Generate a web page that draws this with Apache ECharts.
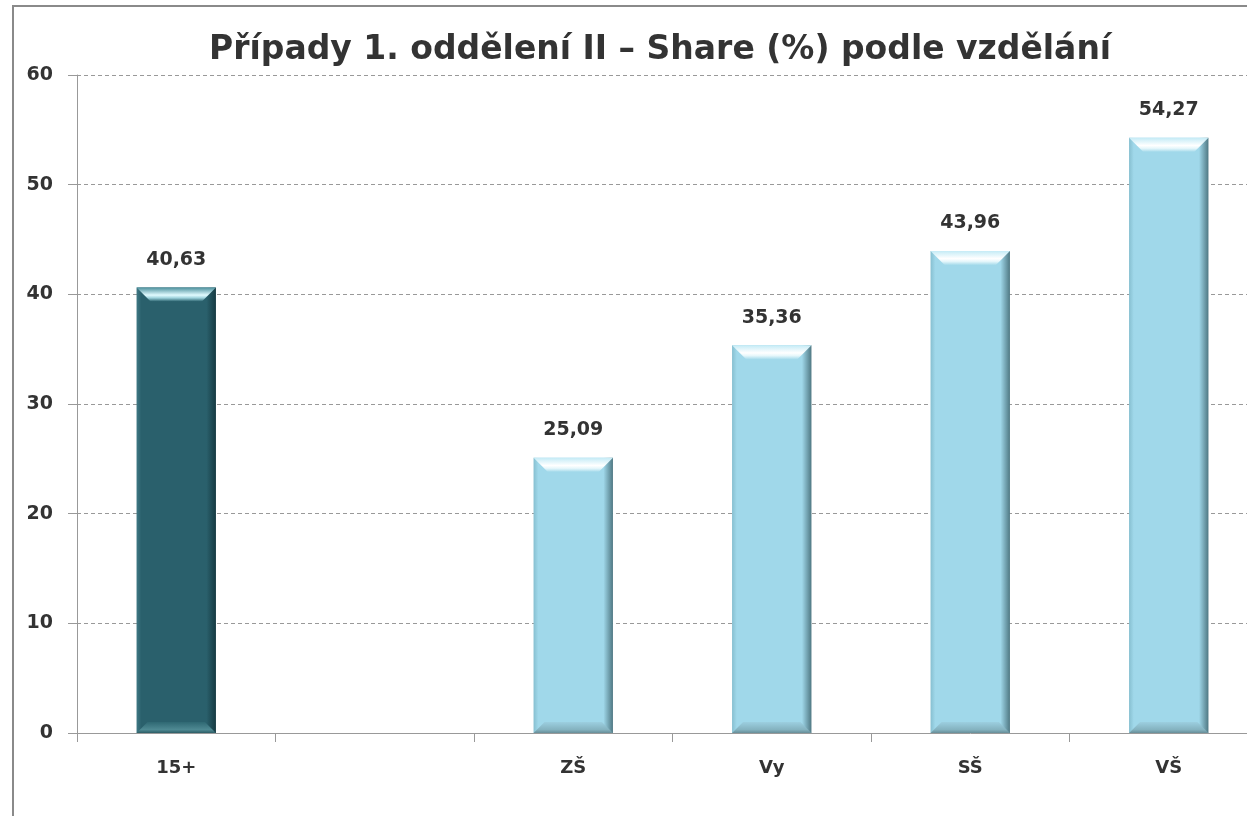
<!DOCTYPE html>
<html>
<head>
<meta charset="utf-8">
<script src="https://cdn.jsdelivr.net/npm/echarts@6/dist/echarts.min.js"></script>
<style>
  html, body { margin: 0; padding: 0; background: #fff; overflow: hidden; width: 1247px; height: 816px; }
  #chart { width: 1300px; height: 816px; }
  .frame { position: absolute; left: 12px; top: 5px; width: 1300px; height: 900px;
           border-left: 2px solid #8a8a8a; border-top: 2px solid #8a8a8a; pointer-events: none; }
</style>
</head>
<body>
<div id="chart"></div>
<div class="frame"></div>
<script>
// categories (the second one is an empty spacer slot)
const categories = ['15+', '', 'ZŠ', 'Vy', 'SŠ', 'VŠ'];
// share in %
const shareValues = [40.63, null, 25.09, 35.36, 43.96, 54.27];
const yTicks = { min: 0, max: 60, interval: 10 };

// side shading of the bars
function barFill(edge, main, dark) {
  return new echarts.graphic.LinearGradient(0, 0, 1, 0, [
    { offset: 0, color: edge },
    { offset: 0.06, color: main },
    { offset: 0.88, color: main },
    { offset: 1, color: dark }
  ]);
}
const darkFill = barFill('#3f7884', '#2a606c', '#163a42');
const lightFill = barFill('#86bfd0', '#a0d8ea', '#4f7883');

// top / bottom bevel drawn on top of each bar
function bevel(params, api) {
  const v = api.value(1);
  if (v == null) return;
  const top = api.coord([api.value(0), v]);
  const base = api.coord([api.value(0), 0]);
  const w = api.size([1, 0])[0] * 0.4;
  const x0 = top[0] - w / 2, x1 = top[0] + w / 2;
  const bt = 14, bb = 11;
  const dark = api.value(0) === 0;
  const topGrad = new echarts.graphic.LinearGradient(0, 0, 0, 1, dark
    ? [{ offset: 0, color: '#4a8f9c' }, { offset: 0.55, color: '#e2fbff' }, { offset: 0.75, color: '#9fd3dd' }, { offset: 1, color: '#2d6571' }]
    : [{ offset: 0, color: '#c4ebf6' }, { offset: 0.55, color: '#ffffff' }, { offset: 0.75, color: '#e6f7fb' }, { offset: 1, color: '#a6dbeb' }]);
  const botGrad = new echarts.graphic.LinearGradient(0, 0, 0, 1, dark
    ? [{ offset: 0, color: '#2f6873' }, { offset: 0.7, color: '#4f8a93' }, { offset: 1, color: '#2c5d66' }]
    : [{ offset: 0, color: '#9ccfe0' }, { offset: 0.7, color: '#84b2bf' }, { offset: 1, color: '#678e99' }]);
  return {
    type: 'group',
    children: [{
      type: 'polygon',
      shape: { points: [[x0, top[1]], [x1, top[1]], [x1 - bt, top[1] + bt], [x0 + bt, top[1] + bt]] },
      style: { fill: topGrad }
    }, {
      type: 'polygon',
      shape: { points: [[x0 + bb, base[1] - bb], [x1 - bb, base[1] - bb], [x1, base[1]], [x0, base[1]]] },
      style: { fill: botGrad }
    }]
  };
}

const chart = echarts.init(document.getElementById('chart'));
chart.setOption({
  animation: false,
  title: {
    text: 'Případy 1. oddělení II – Share (%) podle vzdělání',
    left: 204,
    top: 29,
    textStyle: { fontFamily: 'DejaVu Sans', fontWeight: 'bold', fontSize: 33, color: '#333' }
  },
  grid: { left: 77, top: 75, width: 1191, height: 658 },
  xAxis: {
    type: 'category',
    data: categories,
    axisLine: { lineStyle: { color: '#999' } },
    axisTick: { show: true, length: 9, lineStyle: { color: '#999' } },
    axisLabel: { margin: 26, fontFamily: 'DejaVu Sans', fontWeight: 'bold', fontSize: 18, color: '#333' }
  },
  yAxis: {
    type: 'value',
    min: yTicks.min,
    max: yTicks.max,
    interval: yTicks.interval,
    axisLine: { show: true, lineStyle: { color: '#999' } },
    axisTick: { show: true, length: 9, lineStyle: { color: '#999' } },
    axisLabel: { margin: 24, fontFamily: 'DejaVu Sans', fontWeight: 'bold', fontSize: 19, color: '#333' },
    splitLine: { lineStyle: { color: '#999', type: [4, 3] } }
  },
  series: [{
    type: 'bar',
    data: shareValues.map((v, i) => ({
      value: v,
      itemStyle: { color: i === 0 ? darkFill : lightFill }
    })),
    barWidth: '40%',
    label: {
      show: true,
      position: 'top',
      distance: 18,
      fontFamily: 'DejaVu Sans',
      fontWeight: 'bold',
      fontSize: 19,
      color: '#333',
      formatter: p => p.value == null ? '' : p.value.toFixed(2).replace('.', ',')
    }
  }, {
    type: 'custom',
    renderItem: bevel,
    data: shareValues.map((v, i) => [i, v]).filter(d => d[1] != null),
    encode: { x: 0, y: 1 },
    z: 3,
    silent: true
  }]
});
</script>
</body>
</html>
